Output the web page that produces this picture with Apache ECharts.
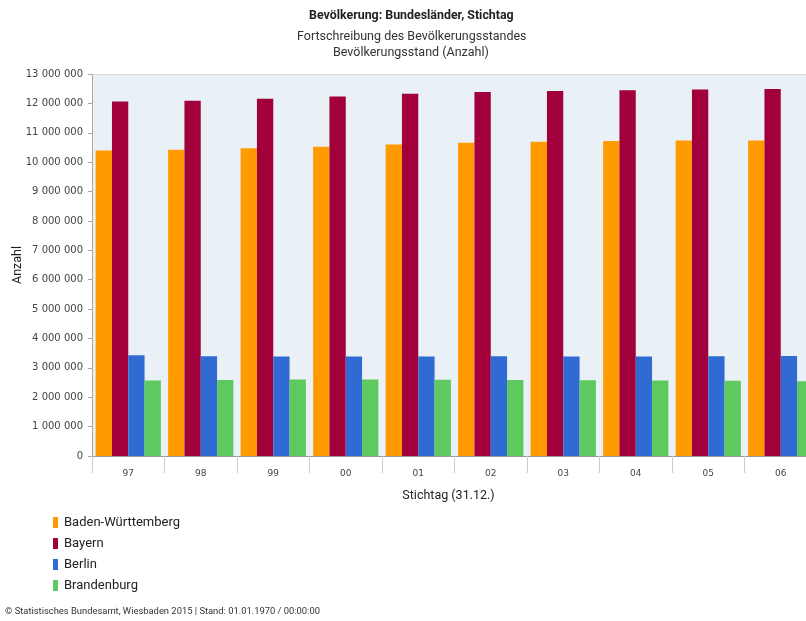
<!DOCTYPE html>
<html>
<head>
<meta charset="utf-8">
<script src="https://cdn.jsdelivr.net/npm/echarts@6/dist/echarts.min.js"></script>
<style>html,body{margin:0;padding:0;background:#fff}#c{width:806px;height:621px}</style>
</head>
<body>
<div id="c"></div>
<script>
var categories = ['97','98','99','00','01','02','03','04','05','06'];
var seriesNames = ['Baden-Württemberg','Bayern','Berlin','Brandenburg'];
var badenWuerttemberg = [10396610,10426040,10475932,10524415,10600906,10661320,10692556,10717419,10735701,10738753];
var bayern = [12066375,12086548,12154967,12230255,12329714,12387351,12423386,12443893,12468726,12492658];
var berlin = [3425759,3398822,3386667,3382169,3388434,3392425,3388477,3387828,3395189,3404037];
var brandenburg = [2573291,2590375,2601207,2602887,2593040,2582379,2574521,2567704,2559483,2547772];
var colors = ['#ff9a00','#a1003b','#2f6bd3','#5ec95e'];
var titleText = 'Bevölkerung: Bundesländer, Stichtag';
var subLine1 = 'Fortschreibung des Bevölkerungsstandes';
var subLine2 = 'Bevölkerungsstand (Anzahl)';
var footerText = '© Statistisches Bundesamt, Wiesbaden 2015 | Stand: 01.01.1970 / 00:00:00';

var seriesData = [badenWuerttemberg, bayern, berlin, brandenburg];

function fmt(v){
  return String(v).replace(/\B(?=(\d{3})+(?!\d))/g, ' ');
}

var chart = echarts.init(document.getElementById('c'), null, {renderer:'canvas'});
chart.setOption({
  animation:false,
  textStyle:{fontFamily:'Roboto'},
  graphic:[
    {type:'text', top:10, left:309, style:{text:titleText, fill:'#222', font:'bold 12.4px Roboto'}},
    {type:'text', top:30, left:297, style:{text:subLine1, fill:'#333', font:'12.5px Roboto'}},
    {type:'text', top:46, left:333, style:{text:subLine2, fill:'#333', font:'12.5px Roboto'}},
    {type:'text', top:607, left:5, style:{text:footerText, fill:'#333', font:'9.4px Roboto'}}
  ],
  legend:{
    orient:'vertical', left:48, top:511,
    itemWidth:5, itemHeight:11, itemGap:8,
    icon:'rect',
    textStyle:{fontSize:13, color:'#222', fontFamily:'Roboto', padding:[0,0,0,1]},
    data:seriesNames
  },
  grid:{
    left:92, top:74, right:-11, height:382,
    outerBoundsMode:'none', containLabel:false,
    show:true, backgroundColor:'#e9f1f6', borderWidth:0
  },
  xAxis:[{
    type:'category', data:categories, position:'bottom', offset:6,
    axisLine:{show:true, lineStyle:{color:'#999', width:1}},
    axisTick:{show:true, length:17, lineStyle:{color:'#ccc'}},
    axisLabel:{fontSize:9, color:'#444', margin:7, fontFamily:'DejaVu Sans'},
    name:'Stichtag (31.12.)', nameLocation:'middle', nameGap:27,
    nameTextStyle:{fontSize:12.5, color:'#222', padding:[0,12,0,0]}
  },{
    type:'category', data:categories, position:'top',
    axisLine:{show:true, lineStyle:{color:'#d4d8db'}},
    axisTick:{show:false}, axisLabel:{show:false}
  }],
  yAxis:{
    type:'value', min:0, max:13000000, interval:1000000,
    axisLine:{show:true, lineStyle:{color:'#aaa'}},
    axisTick:{show:true, length:4, lineStyle:{color:'#aaa'}},
    splitLine:{show:false},
    axisLabel:{fontSize:10, color:'#444', margin:9, formatter:fmt, fontFamily:'DejaVu Sans'},
    name:'Anzahl', nameLocation:'middle', nameGap:68, nameMoveOverlap:false,
    nameTextStyle:{fontSize:12.5, color:'#222'}
  },
  series:seriesNames.map(function(n,i){
    return {
      name:n, type:'bar', data:seriesData[i], xAxisIndex:0,
      barGap:'0%', barCategoryGap:'10%',
      itemStyle:{color:colors[i]}
    };
  })
});
</script>
</body>
</html>
